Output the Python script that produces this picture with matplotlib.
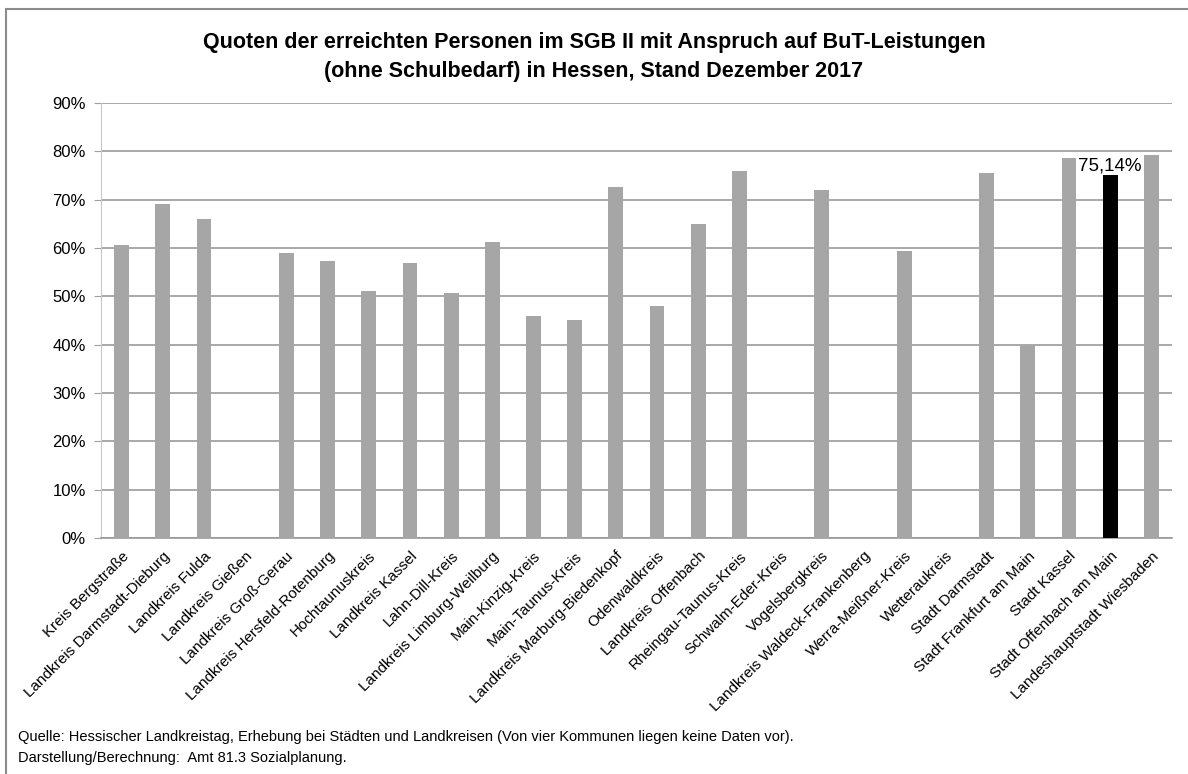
import matplotlib
matplotlib.use("Agg")
import matplotlib.pyplot as plt
from matplotlib.patches import Rectangle
from matplotlib.ticker import PercentFormatter

plt.rcParams["font.family"] = ["Liberation Sans Narrow", "Liberation Sans", "DejaVu Sans"]

# ── Data ─────────────────────────────────────────────────────────────────────
regions = [
    "Kreis Bergstraße", "Landkreis Darmstadt-Dieburg", "Landkreis Fulda",
    "Landkreis Gießen", "Landkreis Groß-Gerau", "Landkreis Hersfeld-Rotenburg",
    "Hochtaunuskreis", "Landkreis Kassel", "Lahn-Dill-Kreis",
    "Landkreis Limburg-Weilburg", "Main-Kinzig-Kreis", "Main-Taunus-Kreis",
    "Landkreis Marburg-Biedenkopf", "Odenwaldkreis", "Landkreis Offenbach",
    "Rheingau-Taunus-Kreis", "Schwalm-Eder-Kreis", "Vogelsbergkreis",
    "Landkreis Waldeck-Frankenberg", "Werra-Meißner-Kreis", "Wetteraukreis",
    "Stadt Darmstadt", "Stadt Frankfurt am Main", "Stadt Kassel",
    "Stadt Offenbach am Main", "Landeshauptstadt Wiesbaden",
]
# None = keine Daten
quote = [
    60.7, 69.1, 66.0, None, 59.0, 57.4, 51.1, 56.9, 50.6, 61.3, 45.9, 45.0,
    72.7, 48.0, 65.0, 76.0, None, 71.9, None, 59.3, None, 75.6, 39.7, 78.6,
    75.14, 79.3,
]
highlight = "Stadt Offenbach am Main"
yticks = list(range(0, 91, 10))

# ── Figure ───────────────────────────────────────────────────────────────────
fig = plt.figure(figsize=(11.88, 7.74), dpi=100)
fig.patch.set_facecolor("white")
fig.patches.append(Rectangle((0.005, -0.01), 1.2, 0.999, transform=fig.transFigure,
                             fill=False, edgecolor="#8c8c8c", linewidth=1.5))

ax = fig.add_axes([0.085, 0.305, 0.9015, 0.562])

for i, (name, v) in enumerate(zip(regions, quote)):
    if v is None:
        continue
    col = "black" if name == highlight else "#a6a6a6"
    ax.bar(i, v, width=0.36, color=col, zorder=3)
    if name == highlight:
        ax.text(i, v, f"{v:.2f}%".replace(".", ","), ha="center", va="bottom",
                fontsize=13.5, zorder=4)

ax.set_xlim(-0.5, len(regions) - 0.5)
ax.set_ylim(0, 90)
ax.set_yticks(yticks)
ax.yaxis.set_major_formatter(PercentFormatter(decimals=0))
ax.set_xticks(range(len(regions)))
ax.set_xticklabels(regions, rotation=45, ha="right", rotation_mode="anchor", fontsize=11)
ax.tick_params(axis="x", length=0, pad=8)
ax.tick_params(axis="y", length=5, color="#a0a0a0", labelsize=12, pad=6)
ax.grid(axis="y", color="#9a9a9a", linewidth=1.2, zorder=0)
for s in ["top", "right"]:
    ax.spines[s].set_visible(False)
ax.spines["left"].set_color("#c8c8c8")
ax.spines["bottom"].set_color("#9a9a9a")
ax.spines["bottom"].set_linewidth(1.2)

fig.text(0.5, 0.927, "Quoten der erreichten Personen im SGB II mit Anspruch auf BuT-Leistungen\n"
         "(ohne Schulbedarf) in Hessen, Stand Dezember 2017",
         ha="center", va="center", fontsize=15.5, fontweight="bold", linespacing=1.5)

fig.text(0.015, 0.048, "Quelle: Hessischer Landkreistag, Erhebung bei Städten und Landkreisen "
         "(Von vier Kommunen liegen keine Daten vor).", fontsize=10.5, va="center")
fig.text(0.015, 0.021, "Darstellung/Berechnung:  Amt 81.3 Sozialplanung.", fontsize=10.5, va="center")

fig.savefig("out.png", dpi=100, facecolor="white")
